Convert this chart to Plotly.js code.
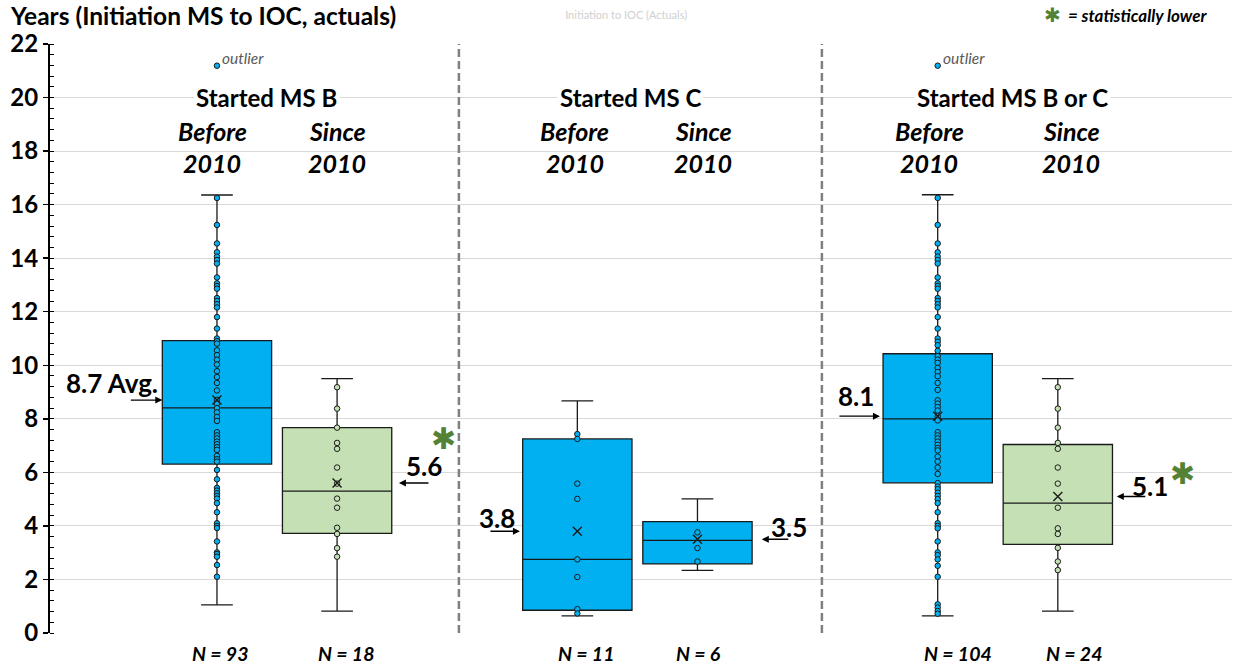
<!DOCTYPE html>
<html>
<head>
<meta charset="utf-8">
<script src="https://cdn.plot.ly/plotly-3.0.1.min.js"></script>
<style>
  html, body { margin: 0; padding: 0; background: #ffffff; }
  #chart { width: 1235px; height: 666px; }
</style>
</head>
<body>
<div id="chart"></div>
<script>
// Years from Milestone initiation to IOC, grouped by start milestone and era
const groups      = ["MS B, Before 2010", "MS B, Since 2010", "MS C, Before 2010", "MS C, Since 2010", "MS B or C, Before 2010", "MS B or C, Since 2010"];
const slot        = [0, 1, 3, 4, 6, 7];            // horizontal slot of each box
const isRecent    = [false, true, false, false, false, true];
const counts      = [93, 18, 11, 6, 104, 24];
const q1          = [6.31, 3.72, 0.85, 2.58, 5.61, 3.31];
const medians     = [8.41, 5.30, 2.75, 3.46, 8.00, 4.85];
const q3          = [10.92, 7.67, 7.25, 4.16, 10.43, 7.04];
const lowWhisker  = [1.05, 0.82, 0.64, 2.34, 0.64, 0.82];
const highWhisker = [16.36, 9.50, 8.67, 5.01, 16.37, 9.50];
const means       = [8.7, 5.6, 3.8, 3.5, 8.1, 5.1];
const meanLabels  = ["8.7 Avg.", "5.6", "3.8", "3.5", "8.1", "5.1"];
const lowerStat   = [false, true, false, false, false, true];

// Individual programs (visible points)
const ptsBBefore = [16.25, 15.24, 14.55, 14.22, 14.06, 13.93, 13.80, 13.28, 13.06, 12.96, 12.86, 12.51, 12.40, 12.28,
  12.16, 11.80, 11.37, 11.00, 10.90, 10.81, 10.56, 10.38, 10.21, 10.03, 9.78, 9.56, 9.34, 9.06, 8.71, 8.57, 8.40,
  8.24, 8.07, 7.92, 7.50, 7.38, 7.27, 7.15, 7.05, 6.94, 6.84, 6.62, 6.49, 6.40, 6.09, 5.74, 5.42, 5.32, 5.22, 5.12,
  5.02, 4.85, 4.51, 4.10, 4.00, 3.92, 3.42, 3.01, 2.95, 2.85, 2.54, 2.10];
const ptsBSince  = [9.18, 8.38, 7.67, 7.10, 6.88, 6.18, 5.58, 5.02, 4.68, 3.93, 3.70, 3.17, 2.85];
const ptsCBefore = [7.43, 7.25, 5.58, 5.01, 2.75, 2.09, 0.89, 0.73];
const ptsCSince  = [3.76, 3.17, 2.67];
const ptsBCBefore = [16.25, 15.24, 14.55, 14.22, 14.06, 13.93, 13.80, 13.28, 13.06, 12.96, 12.86, 12.51, 12.40, 12.28,
  12.16, 11.80, 11.37, 11.00, 10.88, 10.75, 10.54, 10.34, 10.21, 10.09, 9.90, 9.75, 9.59, 9.34, 9.08, 8.69, 8.57,
  8.44, 8.31, 8.09, 7.94, 7.50, 7.38, 7.27, 7.15, 7.03, 6.91, 6.82, 6.59, 6.40, 6.18, 5.94, 5.60, 5.47, 5.37, 5.24,
  5.12, 5.00, 4.85, 4.51, 4.10, 4.00, 3.91, 3.42, 3.01, 2.91, 2.75, 2.51, 2.10, 1.07, 0.95, 0.82, 0.72];
const ptsBCSince = [9.18, 8.38, 7.67, 7.10, 6.88, 6.18, 5.58, 4.68, 3.91, 3.70, 3.18, 2.67, 2.35];
const points = [ptsBBefore, ptsBSince, ptsCBefore, ptsCSince, ptsBCBefore, ptsBCSince];

const outlierSlot  = [0, 6];
const outlierValue = [21.19, 21.19];

const sectionTitles = ["Started MS B", "Started MS C", "Started MS B or C"];
const eraLabels = ["Before", "Since"];
const eraYear = "2010";

const BLUE = "#00B0F0";
const GREEN = "#C5E0B4";
const DARK = "#1a1a1a";
const STAR = "#548235";
const FONT = "Lato, 'Open Sans', sans-serif";

// plot-area geometry helpers (paper fractions from pixel offsets)
const PLOT_W = 1182, PLOT_H = 589;

function pick(arr, flag, want) { return arr.filter((_, i) => flag[i] === want); }

const traces = [];
[false, true].forEach(recent => {
  traces.push({
    type: "box",
    x: pick(slot, isRecent, recent),
    q1: pick(q1, isRecent, recent),
    median: pick(medians, isRecent, recent),
    q3: pick(q3, isRecent, recent),
    lowerfence: pick(lowWhisker, isRecent, recent),
    upperfence: pick(highWhisker, isRecent, recent),
    boxpoints: false,
    width: 0.91,
    whiskerwidth: 0.29,
    fillcolor: recent ? GREEN : BLUE,
    line: { color: DARK, width: 1.3 },
    hoverinfo: "skip",
    showlegend: false
  });
});

points.forEach((vals, i) => {
  traces.push({
    type: "scatter",
    mode: "markers",
    x: vals.map(() => slot[i]),
    y: vals,
    marker: { size: 5.5, color: isRecent[i] ? GREEN : BLUE, line: { color: DARK, width: 1 } },
    hoverinfo: "y",
    showlegend: false
  });
});

traces.push({
  type: "scatter",
  mode: "markers",
  x: outlierSlot,
  y: outlierValue,
  marker: { size: 5.5, color: BLUE, line: { color: DARK, width: 1 } },
  hoverinfo: "y",
  showlegend: false
});

traces.push({
  type: "scatter",
  mode: "markers",
  x: slot,
  y: means,
  marker: { symbol: "x-thin", size: 9, color: DARK, line: { color: DARK, width: 1.4 } },
  hoverinfo: "y",
  showlegend: false
});

const annotations = [];

// Axis caption and legend
annotations.push({
  xref: "paper", yref: "paper", x: -41 / PLOT_W, y: 1 + 28 / PLOT_H, xanchor: "left", yanchor: "middle",
  text: "<b>Years (Initiation MS to IOC, actuals)</b>", showarrow: false, borderpad: 0,
  font: { family: FONT, size: 24.5, color: "#000" }
});
annotations.push({
  xref: "paper", yref: "paper", x: (1052 - 50) / PLOT_W, y: 1 + 29 / PLOT_H, xanchor: "center", yanchor: "middle",
  text: "✱", showarrow: false, font: { family: "DejaVu Sans", size: 20, color: STAR }
});
annotations.push({
  xref: "paper", yref: "paper", x: (1066 - 50) / PLOT_W, y: 1 + 29 / PLOT_H, xanchor: "left", yanchor: "middle",
  text: "<b><i>= statistically lower</i></b>", showarrow: false,
  font: { family: FONT, size: 17, color: "#000" }
});

// Section headings
const titleX = [0.416, 3.446, 6.626];
sectionTitles.forEach((t, k) => {
  annotations.push({
    x: titleX[k], y: 20, text: "<b>" + t + "</b>", showarrow: false,
    bgcolor: "#ffffff", borderpad: 2, font: { family: FONT, size: 24, color: "#000" }
  });
});
const eraX = [-0.04, 1.0, 2.98, 4.05, 5.93, 7.11];
eraX.forEach((ex, i) => {
  annotations.push({ x: ex, y: 18.75, text: "<b><i>" + eraLabels[i % 2] + "</i></b>", showarrow: false,
    font: { family: FONT, size: 25, color: "#000" } });
  annotations.push({ x: ex, y: 17.56, text: "<b><i>" + eraYear + "</i></b>", showarrow: false,
    font: { family: FONT, size: 25, color: "#000" } });
});

// Outlier notes
outlierSlot.forEach((s, k) => {
  annotations.push({ x: s, y: outlierValue[k], xanchor: "left", yanchor: "middle", xshift: 4, yshift: 8,
    text: "<i>outlier</i>", showarrow: false, borderpad: 0, font: { family: FONT, size: 15.5, color: "#595959" } });
});

// Average call-outs: arrow tip at the box edge, value text beside it
const arrowTipX = [-0.455, 1.515, 2.522, 4.536, 5.519, 7.491];
const arrowLen  = [-33, 31, -31, 28, -42, 30];
const labelX    = [-0.874, 1.723, 2.331, 4.761, 5.319, 7.766];
const labelY    = [9.34, 6.24, 4.30, 3.96, 8.85, 5.49];
means.forEach((m, i) => {
  annotations.push({ x: arrowTipX[i], y: m, ax: arrowLen[i], ay: 0, text: "", showarrow: true,
    arrowhead: 2, arrowsize: 1, arrowwidth: 1.4, arrowcolor: "#000" });
  annotations.push({ x: labelX[i], y: labelY[i], text: "<b>" + meanLabels[i] + "</b>", showarrow: false,
    borderpad: 0, font: { family: FONT, size: 26, color: "#000" } });
});
const starX = [1.885, 8.04];
const starY = [7.25, 5.94];
let sIdx = 0;
lowerStat.forEach((flag) => {
  if (!flag) return;
  annotations.push({ x: starX[sIdx], y: starY[sIdx], text: "✱", showarrow: false, borderpad: 0,
    font: { family: "DejaVu Sans", size: 30, color: STAR } });
  sIdx++;
});

// Sample sizes under each box
const countX = [0.025, 1.074, 3.071, 4.012, 6.168, 7.133];
counts.forEach((n, i) => {
  annotations.push({ x: countX[i], yref: "paper", y: -20 / PLOT_H, yanchor: "middle", borderpad: 0,
    text: "<b><i>N = " + n + "</i></b>", showarrow: false, font: { family: FONT, size: 19.5, color: "#000" } });
});

// Dashed separators between the three sections
const separators = [2.014, 5.036];
const shapes = separators.map(sx => ({
  type: "line", xref: "x", yref: "paper", x0: sx, x1: sx, y0: 0, y1: 1,
  line: { color: "#808080", width: 2.5, dash: "8px,4px" }
}));

const layout = {
  width: 1235, height: 666,
  margin: { l: 50, r: 3, t: 44, b: 33 },
  paper_bgcolor: "#ffffff", plot_bgcolor: "#ffffff",
  showlegend: false,
  title: { text: "Initiation to IOC (Actuals)", x: 0.507, xanchor: "center", xref: "container",
    y: 1 - 15 / 666, yanchor: "middle", yref: "container",
    font: { family: FONT, size: 11, color: "#d0d0d0" } },
  xaxis: { range: [-1.39, 8.45], showgrid: false, zeroline: false, showticklabels: false, ticks: "", showline: false },
  yaxis: {
    range: [0, 22], dtick: 2, tick0: 0,
    showgrid: true, gridcolor: "#d9d9d9", gridwidth: 1, zeroline: false,
    showline: true, linecolor: "#000", linewidth: 2,
    ticks: "outside", ticklen: 5, tickwidth: 1.5, tickcolor: "#000",
    minor: { dtick: 0.4, ticks: "inside", ticklen: 4, tickwidth: 1, tickcolor: "#000", showgrid: false },
    tickfont: { family: FONT, size: 24, color: "#000", weight: "bold" }
  },
  annotations: annotations,
  shapes: shapes
};

Plotly.newPlot("chart", traces, layout, { displayModeBar: false, staticPlot: true });
</script>
</body>
</html>
